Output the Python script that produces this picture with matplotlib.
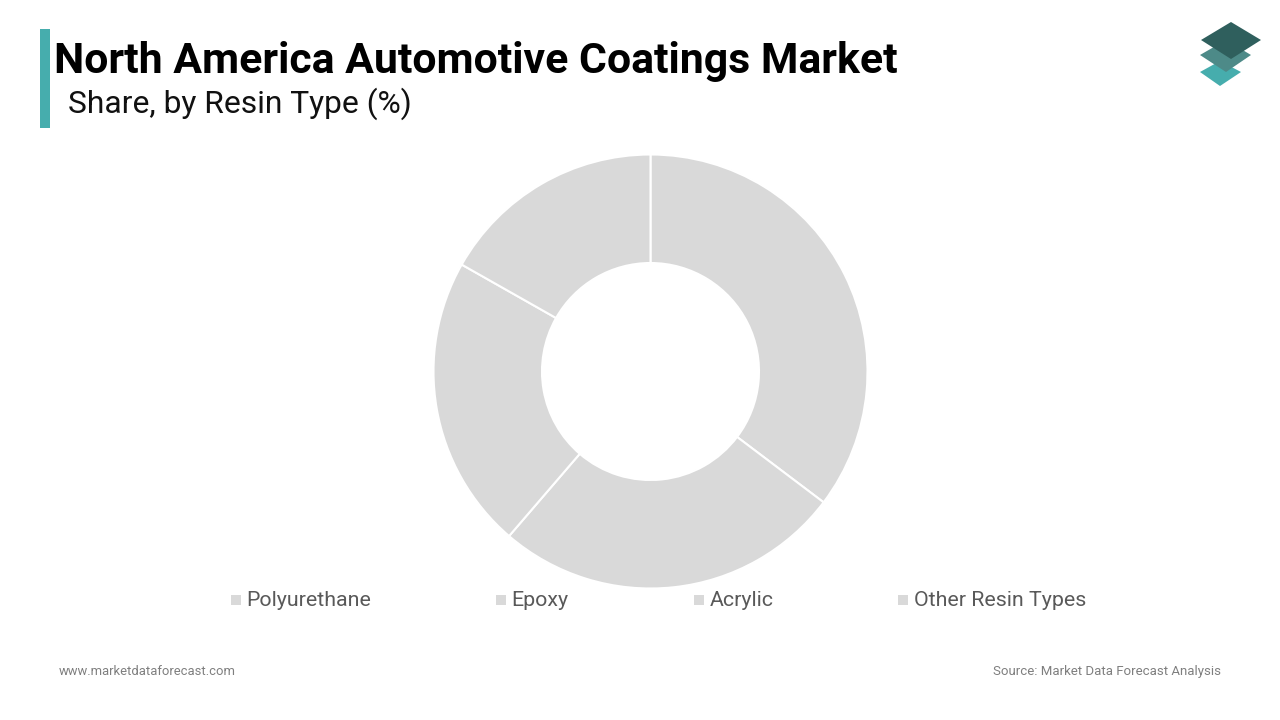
import matplotlib
matplotlib.use("Agg")
import matplotlib.pyplot as plt
from matplotlib.patches import Polygon, Rectangle

categories = ["Polyurethane", "Epoxy", "Acrylic", "Other Resin Types"]
shares = [35.3, 26.0, 21.9, 16.8]
legend_x = [231, 496, 694, 898]

plt.rcParams["font.family"] = ["Roboto", "DejaVu Sans"]

fig = plt.figure(figsize=(12.8, 7.2), dpi=100, facecolor="white")

# overlay in pixel coordinates for header, legend and logo
bg = fig.add_axes([0, 0, 1, 1])
bg.set_xlim(0, 1280)
bg.set_ylim(720, 0)
bg.axis("off")

bg.add_patch(Rectangle((40, 29), 10, 99, color="#46adad", lw=0))
bg.text(54.5, 62, "North America Automotive Coatings Market", fontsize=30.8,
        fontweight="bold", color="#000000", va="center", ha="left")
bg.text(67.5, 104, "Share, by Resin Type (%)", fontsize=22.9, color="#111111",
        va="center", ha="left")

# logo
bg.add_patch(Polygon([(1200, 72), (1220, 61), (1241, 72), (1220, 86)],
                     color="#46adad", lw=0))
bg.add_patch(Polygon([(1200, 55), (1226, 40), (1251, 55), (1226, 72)],
                     color="#4d8a88", lw=0))
bg.add_patch(Polygon([(1201, 40), (1231, 22), (1261, 40), (1231, 59)],
                     color="#2f5f5d", lw=0))

# donut, axes span the outer diameter
size = 434
cx, cy = 650.5, 371.5
ax = fig.add_axes([(cx - size / 2) / 1280, 1 - (cy + size / 2) / 720, size / 1280, size / 720])
ax.pie(shares, startangle=90, counterclock=False, radius=1.0,
       colors=["#d9d9d9"] * len(shares),
       wedgeprops={"width": 0.5, "edgecolor": "white", "linewidth": 1.5})
ax.set_xlim(-1, 1)
ax.set_ylim(-1, 1)

# legend
for name, x in zip(categories, legend_x):
    bg.add_patch(Rectangle((x, 595), 10, 10, color="#d9d9d9", lw=0))
    bg.text(x + 15.7, 600.5, name, fontsize=15.4, color="#595959", va="center", ha="left")

bg.text(59, 671.5, "www.marketdataforecast.com", fontsize=9.35, color="#7f7f7f",
        va="center", ha="left")
bg.text(1221, 671, "Source: Market Data Forecast Analysis", fontsize=9.5, color="#7f7f7f",
        va="center", ha="right")

fig.savefig("out.png", dpi=100)
